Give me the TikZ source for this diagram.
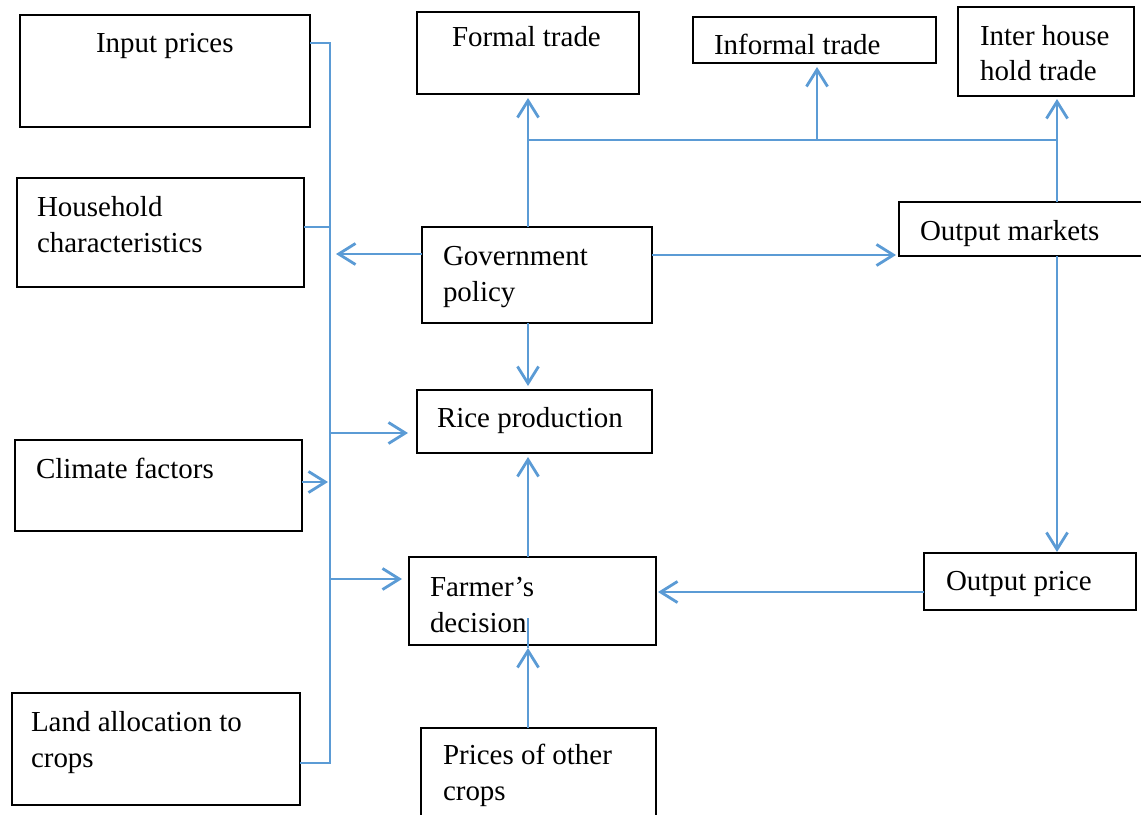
\documentclass[tikz,border=0pt]{standalone}
\usepackage{fontspec}
\setmainfont{Liberation Serif}
\usetikzlibrary{arrows.meta,fit,positioning}
\definecolor{linkblue}{RGB}{91,155,213}

\begin{document}
\begin{tikzpicture}[x=0.025cm,y=-0.025cm]
  %% frame of the page
  \clip (0,0) rectangle (1141,814);

  \tikzstyle{every node}=[inner sep=0pt,outer sep=0pt]
  \tikzstyle{box}=[draw=black,line width=1.4pt]
  % base of a text = base of its last line
  \tikzstyle{txt}=[anchor=base west,align=left,font=\fontsize{20.6}{25.5}\selectfont]
  \tikzstyle{arr}=[draw=linkblue,line width=2pt,-{Straight Barb[length=12pt,width=15pt,line width=2pt]}]
  \tikzstyle{link}=[draw=linkblue,line width=1.1pt]

  % left column
  \node[box,fit={(20,15) (310,127)}] (input) {};
  \node[box,fit={(17,178) (304,287)}] (house) {};
  \node[box,fit={(15,440) (302,531)}] (climate) {};
  \node[box,fit={(12,693) (300,805)}] (land) {};
  \node[txt] (inputT) at (96,53) {Input prices};
  \node[txt] (houseT) at (37,252) {Household\\characteristics};
  \node[txt] (climateT) at (36,478) {Climate factors};
  \node[txt] (landT) at (31,767) {Land allocation to\\crops};

  % middle column
  \node[box,fit={(417,12) (639,94)}] (formal) {};
  \node[box,fit={(422,227) (652,323)}] (gov) {};
  \node[box,fit={(417,390) (652,453)}] (rice) {};
  \node[box,fit={(409,557) (656,645)}] (farmer) {};
  \node[box,fit={(421,728) (656,830)}] (prices) {};
  \node[txt] (formalT) at (452,47) {Formal trade};
  \node[txt] (govT) at (443,301) {Government\\policy};
  \node[txt] (riceT) at (437,427) {Rice production};
  \node[txt] (farmerT) at (430,632) {Farmer’s\\decision};
  \node[txt] (pricesT) at (443,800) {Prices of other\\crops};

  % right column
  \node[box,fit={(693,17) (936,63)}] (informal) {};
  \node[box,fit={(958,7) (1134,96)}] (inter) {};
  \node[box,fit={(899,202) (1150,256)}] (outm) {};
  \node[box,fit={(924,553) (1136,610)}] (oprice) {};
  \node[txt] (informalT) at (714,55) {Informal trade};
  \node[txt] (interT) at (980,81) {Inter house\\hold trade};
  \node[txt] (outmT) at (920,240) {Output markets};
  \node[txt] (opriceT) at (946,590) {Output price};

  % trunk on the left
  \coordinate (ttop) at (330,43);
  \coordinate (tbot) at (330,763);
  \coordinate (thouse) at (330,227);
  \draw[link] (input.east |- ttop) -- (ttop) -- (tbot) -- (land.east |- tbot);
  \draw[link] (house.east |- thouse) -- (thouse);
  \draw[arr] (gov.west |- 0,254) -- (336,254);
  \draw[arr] (330,433) -- (408,433);
  \draw[arr] (climate.east |- 0,482) -- (328,482);
  \draw[arr] (330,579) -- (402,579);

  % trade branch
  \coordinate (bleft) at (528,140);
  \coordinate (bright) at (1057,140);
  \draw[arr] (gov.north -| bleft) -- (528,98);
  \draw[link] (bleft) -- (bright);
  \draw[arr] (817,140) -- (817,67);
  \draw[arr] (outm.north -| bright) -- (1057,99);

  % policy, markets and prices
  \draw[arr] (gov.east |- 0,255) -- (896,255);
  \draw[link] (outm.south -| bright) -- (1057,268);
  \draw[arr] (1057,268) -- (1057,552);
  \draw[arr] (oprice.west |- 0,592) -- (658,592);
  \draw[arr] (gov.south -| bleft) -- (528,386);
  \draw[arr] (farmer.north -| bleft) -- (528,457);
  \draw[arr] (prices.north -| bleft) -- (528,648);
  \draw[link] (528,618) -- (528,648);
\end{tikzpicture}
\end{document}
